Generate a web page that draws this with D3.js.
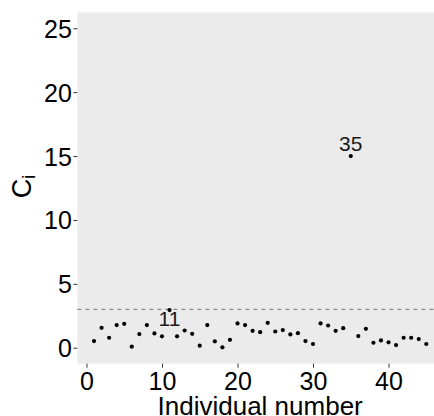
<!DOCTYPE html>
<html>
<head>
<meta charset="utf-8">
<script src="https://cdn.jsdelivr.net/npm/d3@7"></script>
<style>
  html, body { margin: 0; padding: 0; background: #fff; }
  svg { display: block; }
</style>
</head>
<body>
<svg id="chart" width="434" height="416"></svg>
<script>
// Individual number (1..45) and its C_i value
const individuals = d3.range(1, 46);
const ciValues = [
  0.52, 1.56, 0.78, 1.77, 1.87, 0.08, 1.07, 1.77, 1.12, 0.89,
  2.95, 0.89, 1.35, 1.09, 0.16, 1.77, 0.50, 0.03, 0.62, 1.90,
  1.77, 1.32, 1.22, 1.95, 1.27, 1.38, 1.04, 1.14, 0.52, 0.29,
  1.90, 1.74, 1.32, 1.53, 15.0, 0.91, 1.48, 0.39, 0.57, 0.42,
  0.21, 0.78, 0.78, 0.68, 0.29
];
const threshold = 3;
const labelled = [35, 11];
const xTicks = [0, 10, 20, 30, 40];
const yTicks = [0, 5, 10, 15, 20, 25];

const data = individuals.map((id, i) => ({ id, ci: ciValues[i] }));

const svg = d3.select("#chart");
const font = "'Liberation Sans', Arial, sans-serif";

const panel = { left: 77.4, right: 442.9, top: 12.3, bottom: 363.7 };

// ggplot-style 5% expansion around the data ranges
const xMin = 1, xMax = 45;
const xPad = (xMax - xMin) * 0.05;
const x = d3.scaleLinear().domain([xMin - xPad, xMax + xPad]).range([panel.left, panel.right]);
const yPad = 25 * 0.05;
const y = d3.scaleLinear().domain([0 - yPad, 25 + yPad]).range([panel.bottom, panel.top]);

svg.append("rect")
  .attr("x", panel.left).attr("y", panel.top)
  .attr("width", panel.right - panel.left).attr("height", panel.bottom - panel.top)
  .attr("fill", "#EBEBEB");

// threshold line
svg.append("line")
  .attr("x1", panel.left).attr("x2", panel.right)
  .attr("y1", y(threshold)).attr("y2", y(threshold))
  .attr("stroke", "#8a8a8a").attr("stroke-width", 1.1)
  .attr("stroke-dasharray", "4,4");

// points
svg.append("g").selectAll("circle").data(data).join("circle")
  .attr("cx", d => x(d.id)).attr("cy", d => y(d.ci))
  .attr("r", 2.1).attr("fill", "#000");

// point labels
const labelData = data.filter(d => labelled.includes(d.id));
svg.append("g").selectAll("text").data(labelData).join("text")
  .attr("x", d => x(d.id))
  .attr("y", d => d.id === 35 ? y(d.ci) - 5 : y(d.ci) + 16)
  .attr("text-anchor", "middle")
  .attr("font-family", font).attr("font-size", 21)
  .attr("fill", "#1a1a1a")
  .text(d => d.id);

// axes
const xAxis = d3.axisBottom(x).tickValues(xTicks).tickSize(4).tickPadding(4.5);
const gx = svg.append("g").attr("transform", `translate(0,${panel.bottom})`).call(xAxis);
gx.select(".domain").remove();
gx.selectAll(".tick line").attr("stroke", "#333").attr("stroke-width", 1);
gx.selectAll(".tick text").attr("font-family", font).attr("font-size", 25).attr("fill", "#000");

const yAxis = d3.axisLeft(y).tickValues(yTicks).tickSize(4).tickPadding(1.5);
const gy = svg.append("g").attr("transform", `translate(${panel.left},0)`).call(yAxis);
gy.select(".domain").remove();
gy.selectAll(".tick line").attr("stroke", "#333").attr("stroke-width", 1);
gy.selectAll(".tick text").attr("font-family", font).attr("font-size", 25).attr("fill", "#000")
  .attr("dy", "0.36em");

// axis titles
svg.append("text")
  .attr("x", (panel.left + panel.right) / 2).attr("y", 415)
  .attr("text-anchor", "middle")
  .attr("font-family", font).attr("font-size", 26).attr("fill", "#000")
  .text("Individual number");

const yt = svg.append("text")
  .attr("transform", `translate(31,186.5) rotate(-90)`)
  .attr("text-anchor", "middle")
  .attr("font-family", font).attr("font-size", 27).attr("fill", "#000");
yt.append("tspan").text("C");
yt.append("tspan").attr("font-size", 19).attr("dy", 4).text("i");
</script>
</body>
</html>
